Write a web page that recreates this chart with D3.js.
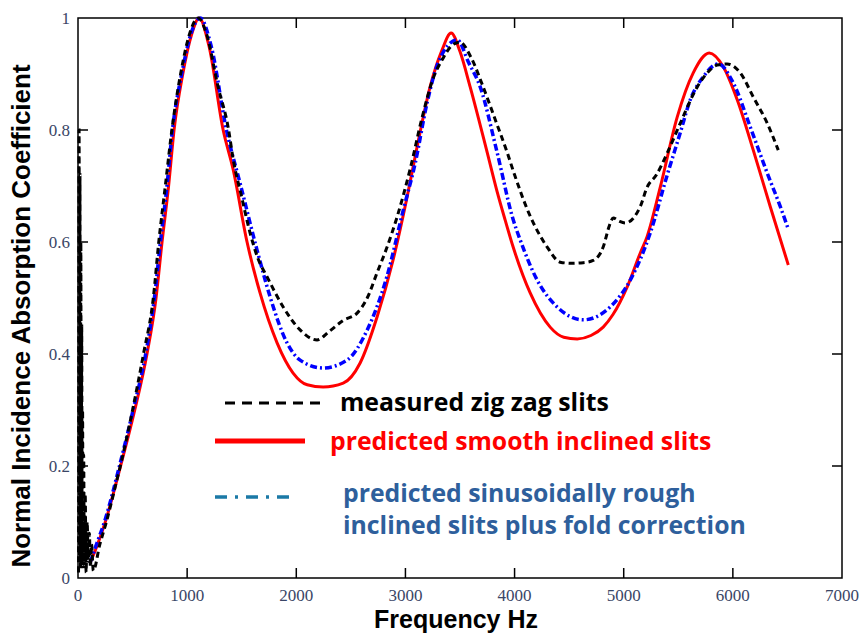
<!DOCTYPE html>
<html>
<head>
<meta charset="utf-8">
<script src="https://cdn.jsdelivr.net/npm/d3@7"></script>
<style>
  body { margin: 0; background: #fff; }
  svg { display: block; }
  .tick-label { font-family: "Liberation Serif", "DejaVu Serif", serif; font-size: 17px; fill: #3a4666; }
  .axis-title { font-family: "Liberation Sans", Arial, sans-serif; font-weight: bold; fill: #000; }
  .legend-text { font-family: "Open Sans", sans-serif; font-weight: 700; font-size: 24.8px; }
</style>
</head>
<body>
<script>
// measured zig zag slits: [frequency Hz, absorption]
var measured = [
  [5, 0.01], [10, 0.8], [14, 0.03], [18, 0.72], [22, 0.02], [26, 0.6], [30, 0.04],
  [34, 0.45], [38, 0.02], [42, 0.3], [46, 0.05], [52, 0.22], [58, 0.02], [66, 0.15],
  [74, 0.01], [84, 0.1], [94, 0.03], [104, 0.08], [114, 0.02], [124, 0.06], [140, 0.013],
  [200, 0.06], [260, 0.1], [350, 0.17], [400, 0.21], [500, 0.3], [600, 0.4],
  [690, 0.5], [740, 0.6], [800, 0.7], [860, 0.8], [940, 0.9], [1020, 0.97],
  [1100, 1.0], [1180, 0.97], [1280, 0.88], [1380, 0.8], [1420, 0.75], [1500, 0.68],
  [1577, 0.616], [1650, 0.57], [1732, 0.538], [1880, 0.484], [2035, 0.443],
  [2190, 0.425], [2300, 0.44], [2430, 0.46], [2557, 0.473], [2650, 0.5],
  [2740, 0.545], [2830, 0.59], [2924, 0.645], [3043, 0.73], [3150, 0.82],
  [3250, 0.89], [3350, 0.93], [3420, 0.95], [3500, 0.957], [3600, 0.93],
  [3712, 0.877], [3820, 0.82], [3932, 0.76], [4000, 0.72], [4130, 0.652],
  [4299, 0.591], [4418, 0.564], [4520, 0.562], [4629, 0.563], [4720, 0.567],
  [4812, 0.591], [4870, 0.63], [4904, 0.643], [4960, 0.637], [5014, 0.634],
  [5151, 0.663], [5215, 0.698], [5300, 0.72], [5399, 0.759], [5518, 0.812],
  [5674, 0.877], [5780, 0.905], [5857, 0.916], [5948, 0.918], [6068, 0.902],
  [6187, 0.859], [6315, 0.812], [6416, 0.764]
];

// predicted smooth inclined slits
var smooth = [
  [110, 0.027], [160, 0.05], [250, 0.1], [390, 0.2], [520, 0.3], [632, 0.4],
  [715, 0.5], [770, 0.6], [830, 0.7], [880, 0.8], [960, 0.9], [1040, 0.97],
  [1110, 1.0], [1200, 0.95], [1330, 0.8], [1421, 0.73], [1549, 0.6],
  [1668, 0.509], [1824, 0.42], [1971, 0.366], [2100, 0.345], [2246, 0.341],
  [2430, 0.348], [2585, 0.384], [2740, 0.466], [2887, 0.568], [3015, 0.68],
  [3107, 0.77], [3226, 0.877], [3330, 0.94], [3419, 0.973], [3500, 0.94],
  [3593, 0.877], [3749, 0.76], [3840, 0.69], [3914, 0.639], [3987, 0.591],
  [4143, 0.509], [4326, 0.448], [4450, 0.43], [4574, 0.427], [4700, 0.433],
  [4812, 0.448], [4900, 0.47], [5032, 0.52], [5151, 0.58], [5215, 0.61],
  [5335, 0.698], [5490, 0.823], [5637, 0.902], [5784, 0.9375], [5912, 0.913],
  [6040, 0.854], [6187, 0.764], [6343, 0.663], [6508, 0.559]
];

// predicted sinusoidally rough inclined slits plus fold correction
var rough = [
  [110, 0.027], [160, 0.055], [250, 0.105], [380, 0.2], [505, 0.3], [620, 0.4],
  [700, 0.5], [755, 0.6], [815, 0.7], [865, 0.8], [950, 0.9], [1040, 0.975],
  [1120, 1.0], [1220, 0.95], [1360, 0.8], [1485, 0.705], [1640, 0.586],
  [1760, 0.502], [1915, 0.42], [2035, 0.389], [2246, 0.375], [2465, 0.389],
  [2650, 0.443], [2830, 0.538], [2980, 0.657], [3090, 0.741], [3200, 0.85],
  [3300, 0.92], [3474, 0.961], [3580, 0.92], [3685, 0.877], [3840, 0.76],
  [3987, 0.64], [4051, 0.604], [4207, 0.532], [4390, 0.484], [4629, 0.461],
  [4876, 0.484], [5060, 0.532], [5243, 0.616], [5399, 0.72], [5518, 0.795],
  [5610, 0.854], [5729, 0.895], [5866, 0.918], [6004, 0.884], [6160, 0.805],
  [6315, 0.723], [6435, 0.663], [6508, 0.623]
];

var xTicks = [0, 1000, 2000, 3000, 4000, 5000, 6000, 7000];
var yTicks = [0, 0.2, 0.4, 0.6, 0.8, 1];

var legendItems = [
  { lines: ['measured zig zag slits'], color: '#000', stroke: '#000', dash: '10,7', width: 3 },
  { lines: ['predicted smooth inclined slits'], color: '#ff0000', stroke: '#ff0000', dash: null, width: 5 },
  { lines: ['predicted sinusoidally rough', 'inclined slits plus fold correction'], color: '#2e5f9c', stroke: '#1b79a6', dash: '12,8,3,8', width: 3.5 }
];

var W = 867, H = 633;
var m = { left: 78, right: 25, top: 18, bottom: 55 };

var svg = d3.select('body').append('svg')
    .attr('width', W)
    .attr('height', H);

var x = d3.scaleLinear().domain([0, 7000]).range([m.left, W - m.right]);
var y = d3.scaleLinear().domain([0, 1]).range([H - m.bottom, m.top]);

// frame
svg.append('rect')
    .attr('x', x(0)).attr('y', y(1))
    .attr('width', x(7000) - x(0)).attr('height', y(0) - y(1))
    .attr('fill', 'none').attr('stroke', '#000').attr('stroke-width', 1.5);

var inner = xTicks.slice(1, -1);
var tickLen = 10;
// bottom and top ticks (pointing in)
svg.append('g').selectAll('line').data(inner).enter().append('line')
    .attr('x1', function(d){ return x(d); }).attr('x2', function(d){ return x(d); })
    .attr('y1', y(0)).attr('y2', y(0) - tickLen)
    .attr('stroke', '#000').attr('stroke-width', 1.5);
svg.append('g').selectAll('line').data(inner).enter().append('line')
    .attr('x1', function(d){ return x(d); }).attr('x2', function(d){ return x(d); })
    .attr('y1', y(1)).attr('y2', y(1) + tickLen)
    .attr('stroke', '#000').attr('stroke-width', 1.5);
var yInner = yTicks.slice(1, -1);
svg.append('g').selectAll('line').data(yInner).enter().append('line')
    .attr('x1', x(0)).attr('x2', x(0) + tickLen)
    .attr('y1', function(d){ return y(d); }).attr('y2', function(d){ return y(d); })
    .attr('stroke', '#000').attr('stroke-width', 1.5);
svg.append('g').selectAll('line').data(yInner).enter().append('line')
    .attr('x1', x(7000)).attr('x2', x(7000) - tickLen)
    .attr('y1', function(d){ return y(d); }).attr('y2', function(d){ return y(d); })
    .attr('stroke', '#000').attr('stroke-width', 1.5);

// tick labels
svg.append('g').selectAll('text').data(xTicks).enter().append('text')
    .attr('class', 'tick-label')
    .attr('x', function(d){ return x(d); })
    .attr('y', y(0) + 23)
    .attr('text-anchor', 'middle')
    .text(function(d){ return d; });
svg.append('g').selectAll('text').data(yTicks).enter().append('text')
    .attr('class', 'tick-label')
    .attr('x', x(0) - 8)
    .attr('y', function(d){ return y(d) + 6; })
    .attr('text-anchor', 'end')
    .text(function(d){ return d; });

// axis titles
svg.append('text').attr('class', 'axis-title')
    .attr('x', 456).attr('y', 628)
    .attr('text-anchor', 'middle')
    .style('font-size', '25px')
    .text('Frequency Hz');
svg.append('text').attr('class', 'axis-title')
    .attr('transform', 'translate(30,316) rotate(-90)')
    .attr('text-anchor', 'middle')
    .style('font-size', '26px')
    .text('Normal Incidence Absorption Coefficient');

// curves
var line = d3.line()
    .x(function(d){ return x(d[0]); })
    .y(function(d){ return y(d[1]); })
    .curve(d3.curveMonotoneX);

svg.append('path').datum(smooth)
    .attr('d', line).attr('fill', 'none')
    .attr('stroke', '#ff0000').attr('stroke-width', 3);
svg.append('path').datum(rough)
    .attr('d', line).attr('fill', 'none')
    .attr('stroke', '#0000ff').attr('stroke-width', 3.5)
    .attr('stroke-dasharray', '7,3,2,3');
svg.append('path').datum(measured)
    .attr('d', line).attr('fill', 'none')
    .attr('stroke', '#000').attr('stroke-width', 3)
    .attr('stroke-dasharray', '6,4');

// legend
var legendRows = [
  { x1: 225, x2: 322, ly: 403, tx: 340, ty: 411 },
  { x1: 215, x2: 305, ly: 441, tx: 330, ty: 450 },
  { x1: 215, x2: 297, ly: 497, tx: 343, ty: 502 }
];
legendItems.forEach(function(item, i){
  var r = legendRows[i];
  svg.append('line')
      .attr('x1', r.x1).attr('x2', r.x2)
      .attr('y1', r.ly).attr('y2', r.ly)
      .attr('stroke', item.stroke).attr('stroke-width', item.width)
      .attr('stroke-dasharray', item.dash);
  item.lines.forEach(function(t, j){
    svg.append('text').attr('class', 'legend-text')
        .attr('x', r.tx).attr('y', r.ty + j * 32)
        .attr('fill', item.color)
        .text(t);
  });
});
</script>
</body>
</html>
